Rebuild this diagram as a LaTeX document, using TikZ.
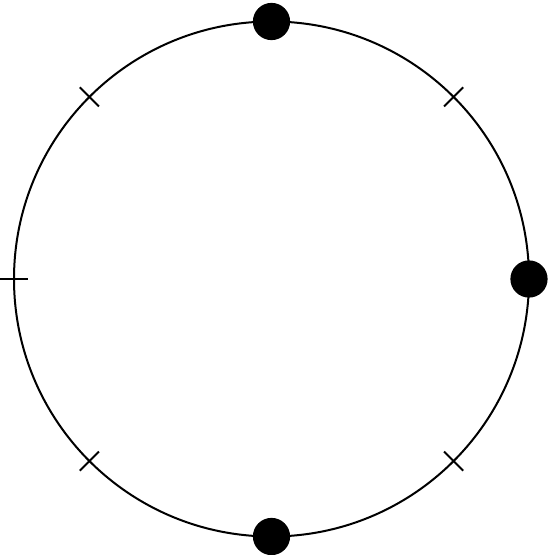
\documentclass[tikz,border=0pt]{standalone}
\begin{document}
\begin{tikzpicture}[x=0.025cm,y=0.025cm,line width=0.05cm]

      \useasboundingbox (0,0) rectangle (548,555);
      \coordinate (o) at (271.5,276);
      \draw (o) circle (257.5);

      \begin{scope}[every node/.style={circle,fill,inner sep=0pt,minimum size=0.93cm}]
        \node (1) at ([shift={(90:257.5)}]o)  {};
        \node (2) at ([shift={(0:257.5)}]o)   {};
        \node (3) at ([shift={(270:257.5)}]o) {};
      \end{scope}

      \foreach \a in {45,135,180,225,315}
        \draw ([shift={(\a:244)}]o) -- ([shift={(\a:271)}]o);

    \end{tikzpicture}
\end{document}
